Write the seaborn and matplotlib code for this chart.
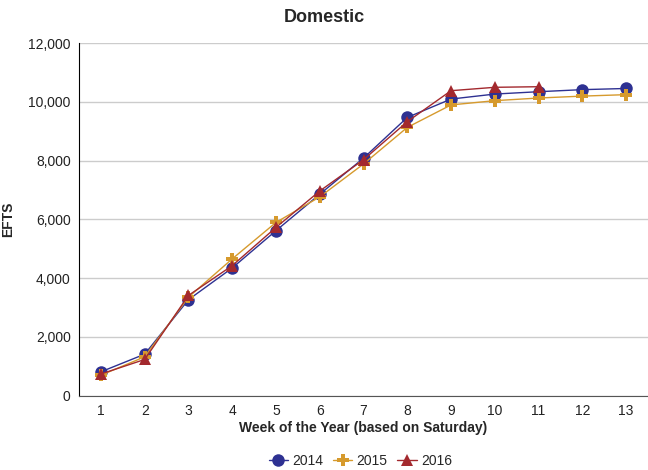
import pandas as pd
import matplotlib
matplotlib.use("Agg")
import matplotlib.pyplot as plt
import seaborn as sns
from matplotlib.ticker import FuncFormatter

# --- Data ---
weeks = list(range(1, 14))
efts_2014 = [815, 1415, 3270, 4350, 5620, 6860, 8090, 9475, 10100, 10270, 10350, 10420, 10460]
efts_2015 = [700, 1325, 3355, 4660, 5900, 6770, 7890, 9135, 9900, 10045, 10135, 10200, 10250]
efts_2016 = [740, 1235, 3415, 4430, 5730, 6970, 8035, 9330, 10385, 10500, 10520]
years = ["2014", "2015", "2016"]
colors = {"2014": "#2E3192", "2015": "#D69A2D", "2016": "#A3292E"}
markers = {"2014": "o", "2015": "P", "2016": "^"}

frames = []
for yr, vals in zip(years, [efts_2014, efts_2015, efts_2016]):
    frames.append(pd.DataFrame({"week": weeks[:len(vals)], "efts": vals, "year": yr}))
df = pd.concat(frames, ignore_index=True)

sns.set_style("white")
plt.rcParams["font.family"] = ["Liberation Sans", "DejaVu Sans"]

fig = plt.figure(figsize=(6.48, 4.70), dpi=100)
ax = fig.add_axes([0.122, 0.158, 0.878, 0.750])

sns.lineplot(data=df, x="week", y="efts", hue="year", style="year",
             hue_order=years, style_order=years, palette=colors,
             markers=markers, dashes=False, markersize=9, linewidth=1,
             markeredgewidth=0, ax=ax, legend=False)

ax.set_xlim(0.5, 13.5)
ax.set_ylim(0, 12000)
ax.set_xticks(weeks)
ax.set_yticks(range(0, 12001, 2000))
ax.yaxis.set_major_formatter(FuncFormatter(lambda v, p: f"{int(v):,}"))
ax.tick_params(axis="both", length=0, labelsize=10, colors="#222222", pad=6)
ax.grid(axis="y", color="#cccccc", linewidth=1)
ax.set_axisbelow(True)
for s in ["top", "right"]:
    ax.spines[s].set_visible(False)
ax.spines["left"].set_color("black")
ax.spines["bottom"].set_color("#555555")

fig.suptitle("Domestic", fontsize=13, fontweight="bold", x=0.5, y=0.962, va="center")
ax.set_xlabel("Week of the Year (based on Saturday)", fontsize=10, fontweight="bold", labelpad=2)
ax.set_ylabel("EFTS", fontsize=10, fontweight="bold")
ax.yaxis.set_label_coords(-0.112, 0.5)

# legend at bottom
handles = [plt.Line2D([], [], color=colors[y], marker=markers[y], markersize=9,
                      markeredgewidth=0, linewidth=1) for y in years]
fig.legend(handles, years, loc="center", bbox_to_anchor=(0.556, 0.019), ncol=3,
           frameon=False, fontsize=10, handlelength=1.4, handletextpad=0.3,
           columnspacing=0.7)

fig.savefig("out.png", dpi=100)
